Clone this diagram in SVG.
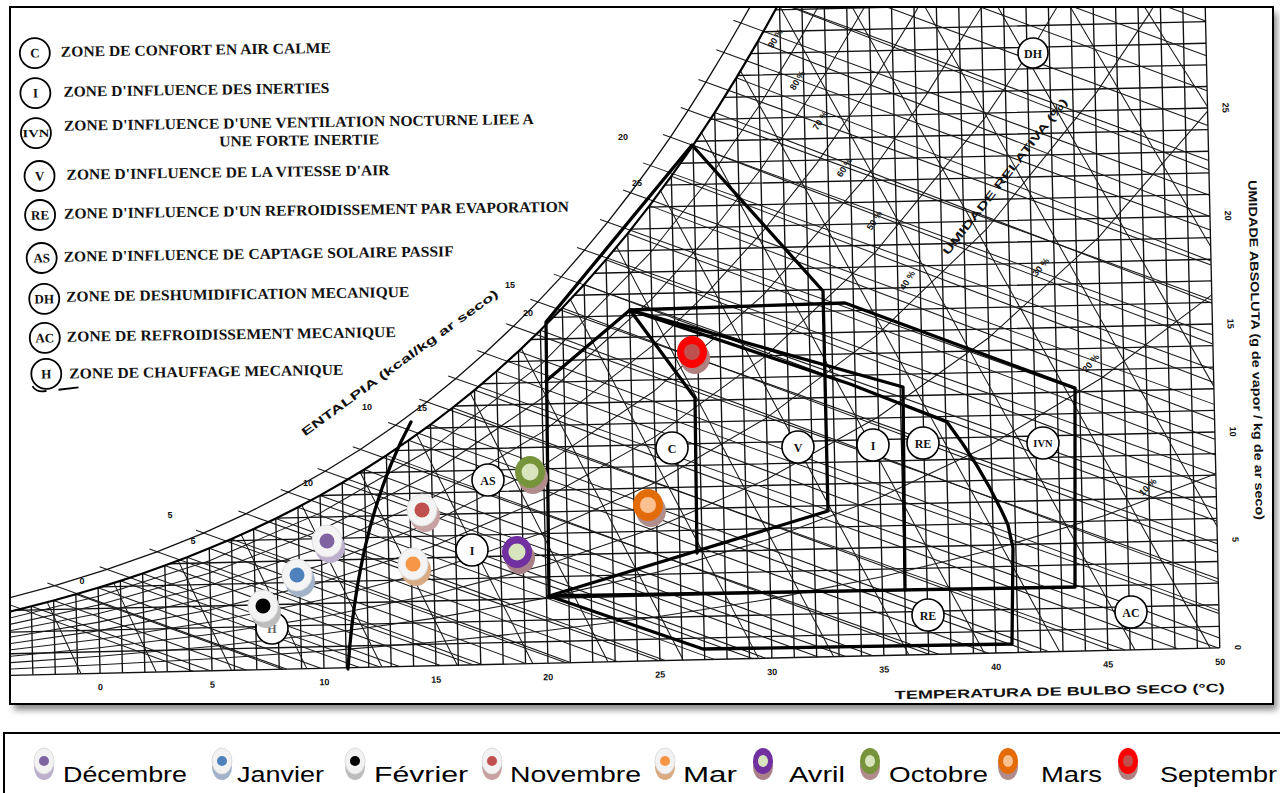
<svg xmlns="http://www.w3.org/2000/svg" width="1280" height="793" viewBox="0 0 1280 793">
<defs>
<style>
.g{fill:none;stroke:#111;stroke-width:1.35}
.t{fill:none;stroke:#1a1a1a;stroke-width:1.05}
.sat{fill:none;stroke:#000;stroke-width:2.2}
.zone{fill:none;stroke:#000;stroke-width:3.3;stroke-linejoin:round;stroke-linecap:round}
.zl circle{fill:#fff;stroke:#000;stroke-width:1.6}
.zl text{font-family:"Liberation Serif",serif;font-weight:bold;font-size:12px;text-anchor:middle;fill:#111}
.leg{font-family:"Liberation Serif",serif;font-weight:bold;font-size:15px;fill:#111}
.lc circle{fill:#fff;stroke:#000;stroke-width:1.8}
.lc text{font-family:"Liberation Serif",serif;font-weight:bold;font-size:13px;text-anchor:middle;fill:#111}
.num{font-family:"Liberation Sans",Arial,sans-serif;font-weight:bold;font-size:9px;fill:#111;text-anchor:middle}
.ax{font-family:"Liberation Sans",Arial,sans-serif;font-weight:bold;font-size:12px;fill:#111;text-anchor:middle}
.bl{font-family:"Liberation Sans",Arial,sans-serif;font-size:22px;fill:#000}
</style>
<clipPath id="chartClip"><rect x="11" y="8" width="1261" height="696"/></clipPath>
<filter id="blur" x="-5%" y="-5%" width="110%" height="110%"><feGaussianBlur stdDeviation="3"/></filter>
</defs>
<rect width="1280" height="793" fill="#fff"/>
<rect x="14" y="13" width="1263" height="697" fill="#8a8a8a" filter="url(#blur)"/>
<rect x="10" y="7" width="1263" height="697" fill="#fff" stroke="#000" stroke-width="2"/>

<g id="chart" clip-path="url(#chartClip)">
<g transform="rotate(-1.3 640 400)">
<path id="grid-v" class="g" d="M26.8 661V592.4M49.2 661V587.1M71.6 661V581.4M94 661V575.4M116.4 661V569M138.8 661V562.1M161.2 661V554.7M183.6 661V546.9M206 661V538.5M228.4 661V529.7M250.8 661V520.2M273.2 661V510.2M295.6 661V499.5M318 661V488.1M340.4 661V476M362.8 661V463.2M385.2 661V449.6M407.6 661V435.1M430 661V419.8M452.4 661V403.5M474.8 661V386.3M497.2 661V368M519.6 661V348.6M542 661V328.1M564.4 661V306.3M586.8 661V283.3M609.2 661V258.9M631.6 661V233.2M654 661V205.9M676.4 661V177M698.8 661V146.6M721.2 661V114.3M743.6 661V80.1M766 661V44.1M788.4 661V5.9M810.8 661V-40M833.2 661V-40M855.6 661V-40M878 661V-40M900.4 661V-40M922.8 661V-40M945.2 661V-40M967.6 661V-40M990 661V-40M1012.4 661V-40M1034.8 661V-40M1057.2 661V-40M1079.6 661V-40M1102 661V-40M1124.4 661V-40M1146.8 661V-40M1169.2 661V-40M1191.6 661V-40M1214 661V-40"/>
<path id="grid-h" class="g" d="M-30 661H1214M-30 639.4H1214M-30 617.8H1214M10 596.2H1214M96.7 574.6H1214M166.1 553H1214M224.1 531.4H1214M274 509.8H1214M317.8 488.2H1214M357 466.6H1214M392.3 445H1214M424.6 423.4H1214M454.6 401.8H1214M482.2 380.2H1214M508 358.6H1214M532.4 337H1214M555 315.4H1214M576.7 293.8H1214M597.1 272.2H1214M616.4 250.6H1214M635 229H1214M652.7 207.4H1214M669.7 185.8H1214M685.8 164.2H1214M701.5 142.6H1214M716.5 121H1214M731.1 99.4H1214M744.9 77.8H1214M758.4 56.2H1214M771.6 34.6H1214M784.1 13H1214"/>
<g id="rh-curves" class="t">
<path d="M4.4 654.7L94 652.5L206 648.9L318 643.9L430 637.3L542 628.4L654 616.8L766 601.8L878 582.3L990 557.5L1102 526.1L1214 486.7"/>
<path d="M4.4 648.3L94 644L206 636.7L318 626.8L430 613.4L542 595.7L654 572.4L766 542L878 502.7L990 452.5L1102 388.5L1214 307.8"/>
<path d="M4.4 642L94 635.4L206 624.5L318 609.6L430 589.5L542 562.8L654 527.6L766 481.7L878 422.2L990 345.7L1102 248.1L1214 124.1"/>
<path d="M4.4 635.6L94 626.9L206 612.3L318 592.4L430 565.5L542 529.8L654 482.6L766 420.8L878 340.7L990 237.4L1102 104.8L1158 25.3L1192 -30"/>
<path d="M4.4 629.3L94 618.3L206 600L318 575.1L430 541.5L542 496.6L654 437.2L766 359.5L878 258.2L990 127.2L1046 48.2L1102 -41"/>
<path d="M4.4 622.9L94 609.8L206 587.8L318 557.8L430 517.3L542 463.2L654 391.6L766 297.5L878 174.8L934 100.2L990 15.4L1012.4 -21.8"/>
<path d="M4.4 616.5L94 601.2L206 575.5L318 540.4L430 493.1L542 429.7L654 345.6L710 294L766 235L822 167.4L878 90.3L922.8 20.7L945.2 -16.8"/>
<path d="M4.4 610.1L94 592.6L206 563.2L318 523L430 468.7L542 396L654 299.4L710 240L766 172L833.2 77L878 4.8L900.4 -34.5"/>
<path d="M4.4 603.8L94 584L206 550.9L318 505.6L430 444.3L542 362.1L654 252.8L710 185.5L766 108.3L810.8 38.4L833.2 0.5L855.6 -39.7"/>
</g>
<path id="enthalpy" class="t" d="M-13.5 583.2L187.2 661M43.4 569.5L280.4 661M96 554.4L373.7 661M146.2 537.9L466.9 661M193.2 520.2L560.1 661M236 501.9L653.3 661M278.8 481.3L746.5 661M316.2 461.2L839.8 661M351.8 440.2L933 661M387.7 416.8L1026.2 661M419.5 394.2L1119.4 661M448.8 371.6L1212.6 661M478.4 346.9L1214 626.6M507.7 320.6L1214 591.8M532.6 296.7L1214 556.9M556.6 272.2L1214 522M580.5 246L1214 487.2M604.3 218.6L1214 452.3M627.8 189.7L1214 417.4M648.4 163L1214 382.6M669 135L1214 347.7M687.4 108.5L1214 312.9M705.7 80.8L1214 278M724.3 51.6L1214 243.1M742 22.5L1214 208.3M759 -6.1L1214 173.4M813 -20L1214 138.5M901 -20L1214 103.7M989 -20L1214 68.8M1077.5 -20L1214 33.9"/>
<path id="wet-bulb" class="t" d="M26.8 592.4L204.1 661M49.2 587.1L240 661M71.6 581.4L276.9 661M94 575.4L314.7 661M116.4 569L353.5 661M138.8 562.1L393.4 661M161.2 554.7L434.5 661M183.6 546.9L476.7 661M206 538.5L520.2 661M228.4 529.7L565.1 661M250.8 520.2L611.4 661M273.2 510.2L659.2 661M295.6 499.5L708.5 661M318 488.1L759.6 661M340.4 476L812.4 661M362.8 463.2L867 661M385.2 449.6L923.7 661M407.6 435.1L982.4 661M430 419.8L1043.2 661M452.4 403.5L1106.3 661M474.8 386.3L1171.9 661M497.2 368L1214 651M519.6 348.6L1214 623.7M542 328.1L1214 595.2M564.4 306.3L1214 565.4M586.8 283.3L1214 534.4M609.2 258.9L1214 501.9M631.6 233.2L1214 468M654 205.9L1214 432.6M676.4 177L1214 395.6M698.8 146.6L1214 356.9M721.2 114.3L1214 316.3M743.6 80.1L1214 273.9M766 44.1L1214 229.4M788.4 5.9L1214 182.8"/>
<path id="volume" class="t" d="M75 661L42.7 588.6M150.2 661L109.7 570.9M225.5 661L174.6 550M300.8 661L238.3 525.6M376 661L299.6 497.5M451.3 661L358.5 465.7M526.8 661L416.1 429.4M602 661L470.5 389.5M677.3 661L522.5 345.8M752.6 661L572.7 297.9M827.8 661L620.2 246.3M903.1 661L665.4 191.6M978.6 661L707.5 134M1053.8 661L748.1 73.5M1129.1 661L787.7 7.8M1204.4 661L850.2 -8.6M1214 539.2L922.1 -8.6M1214 399.4L993.8 -8.6M1214 259.5L1065 -8.6M1214 119.7L1137 -8.6"/>
<path id="saturation" class="sat" d="M-20 603L4.4 597.4L26.8 592.4L49.2 587.1L71.6 581.4L94 575.4L116.4 569L138.8 562.1L161.2 554.7L183.6 546.9L206 538.5L228.4 529.7L250.8 520.2L273.2 510.2L295.6 499.5L318 488.1L340.4 476L362.8 463.2L385.2 449.6L407.6 435.1L430 419.8L452.4 403.5L474.8 386.3L497.2 368L519.6 348.6L542 328.1L564.4 306.3L586.8 283.3L609.2 258.9L631.6 233.2L654 205.9L676.4 177L698.8 146.6L721.2 114.3L743.6 80.1L766 44.1L788.4 5.9L810.8 -34"/>
<path id="enthalpy-band" class="g" d="M-6.1 586.1L50.8 572.4L103.4 557.3L153.6 540.8L200.6 523.1L243.4 504.8L286.2 484.2L323.6 464.1L359.2 443.1L395.1 419.7L426.9 397.1L456.2 374.5L485.8 349.8L515.1 323.5L540 299.6L564 275.1L587.9 248.9L611.7 221.5L635.2 192.6L655.8 165.9L676.4 137.9L694.8 111.4L713.1 83.7L731.7 54.5L749.4 25.4L766.4 -3.2L780 -25"/>
<g id="x-ticks" class="num">
<text x="94" y="678">0</text><text x="206" y="678">5</text><text x="318" y="678">10</text><text x="430" y="678">15</text><text x="542" y="678">20</text><text x="654" y="678">25</text><text x="766" y="678">30</text><text x="878" y="678">35</text><text x="990" y="678">40</text><text x="1102" y="678">45</text><text x="1214" y="678">50</text>
</g>
<g id="y-ticks" class="num">
<text transform="translate(1232 661) rotate(90)" y="3">0</text>
<text transform="translate(1232 553) rotate(90)" y="3">5</text>
<text transform="translate(1232 445) rotate(90)" y="3">10</text>
<text transform="translate(1232 337) rotate(90)" y="3">15</text>
<text transform="translate(1232 229) rotate(90)" y="3">20</text>
<text transform="translate(1232 121) rotate(90)" y="3">25</text>
</g>
<text class="ax" x="1053" y="705" textLength="330" lengthAdjust="spacingAndGlyphs">TEMPERATURA DE BULBO SECO (°C)</text>
<text class="ax" transform="translate(1253 364) rotate(90)" textLength="340" lengthAdjust="spacingAndGlyphs">UMIDADE ABSOLUTA (g de vapor / kg de ar seco)</text>
</g>

<g id="zones">
<path id="zone-V" class="zone" d="M546 322L692 145L823 291L828 511L549 596Z"/>
<path id="zone-C" class="zone" d="M546 381L630 310L695 398L697 553"/>
<path id="zone-IVN" class="zone" d="M630 310L845 303L1075 388L1075 587L549 596"/>
<path id="zone-I" class="zone" d="M630 310L903 387L905 590"/>
<path id="zone-RE" class="zone" d="M630 310L850 384L947 422Q985 472 1008 525L1013 548L1012 644L703 649L549 596"/>
<path id="zone-H" class="zone" d="M411 422C385 470 356 545 348 669"/>
</g>
</g>

<g id="chart-texts" class="num">
<text x="82" y="584">0</text><text x="193" y="544">5</text><text x="308" y="486">10</text><text x="422" y="411">15</text><text x="528" y="316">20</text><text x="637" y="186">25</text>
<text x="170" y="518">5</text><text x="367" y="410">10</text><text x="510" y="288">15</text><text x="623" y="140">20</text>
<text transform="translate(778 40) rotate(-58)">90 %</text>
<text transform="translate(800 82) rotate(-58)">80 %</text>
<text transform="translate(823 122) rotate(-58)">70 %</text>
<text transform="translate(847 169) rotate(-58)">60 %</text>
<text transform="translate(877 222) rotate(-58)">50 %</text>
<text transform="translate(910 282) rotate(-58)">40 %</text>
<text transform="translate(1043 269) rotate(-50)">30 %</text>
<text transform="translate(1093 365) rotate(-50)">20 %</text>
<text transform="translate(1150 489) rotate(-45)">10 %</text>
</g>
<text class="ax" style="font-size:11px" transform="translate(1008 179) rotate(-52)" textLength="195" lengthAdjust="spacingAndGlyphs">UMIDADE RELATIVA (%)</text>
<text class="ax" style="font-size:11.5px" transform="translate(402 366) rotate(-36)" textLength="240" lengthAdjust="spacingAndGlyphs">ENTALPIA  (kcal/kg ar seco)</text>

<g id="zone-labels" class="zl">
<g id="lbl-DH"><circle cx="1033" cy="53" r="15"/><text x="1033" y="57.5">DH</text></g>
<g id="lbl-C"><circle cx="672" cy="448" r="16"/><text x="672" y="452.5">C</text></g>
<g id="lbl-V"><circle cx="798" cy="447" r="16"/><text x="798" y="451.5">V</text></g>
<g id="lbl-I1"><circle cx="873" cy="445" r="16"/><text x="873" y="449.5">I</text></g>
<g id="lbl-RE1"><circle cx="923" cy="443" r="16"/><text x="923" y="447.5">RE</text></g>
<g id="lbl-IVN"><circle cx="1043" cy="443" r="16"/><text x="1043" y="447" style="font-size:10.5px">IVN</text></g>
<g id="lbl-RE2"><circle cx="928" cy="615" r="16"/><text x="928" y="619.5">RE</text></g>
<g id="lbl-AC"><circle cx="1131" cy="612" r="16"/><text x="1131" y="616.5">AC</text></g>
<g id="lbl-AS"><circle cx="488" cy="480" r="16"/><text x="488" y="484.5">AS</text></g>
<g id="lbl-I2"><circle cx="472" cy="550" r="16"/><text x="472" y="554.5">I</text></g>
<g id="lbl-H"><circle cx="272" cy="628" r="16"/><text x="272" y="633" style="fill:#666">H</text></g>
</g>

<g id="markers">
<g id="mk-fevrier"><ellipse cx="266" cy="612" rx="15" ry="16" fill="#bdbdbd"/><ellipse cx="263" cy="606" rx="15" ry="16" fill="#f4f4f4" stroke="#ddd"/><circle cx="263" cy="606" r="7.5" fill="#000"/></g>
<g id="mk-janvier"><ellipse cx="300" cy="581" rx="15" ry="16" fill="#a2b3c9"/><ellipse cx="297" cy="575" rx="15" ry="16" fill="#f4f4f4" stroke="#ddd"/><circle cx="297" cy="575" r="7.5" fill="#4f81bd"/></g>
<g id="mk-decembre"><ellipse cx="330" cy="547" rx="15" ry="16" fill="#bcb0cc"/><ellipse cx="327" cy="541" rx="15" ry="16" fill="#f4f4f4" stroke="#ddd"/><circle cx="327" cy="541" r="7.5" fill="#8064a2"/></g>
<g id="mk-mar"><ellipse cx="416" cy="570" rx="15" ry="16" fill="#d9ab82"/><ellipse cx="413" cy="564" rx="15" ry="16" fill="#f4f4f4" stroke="#ddd"/><circle cx="413" cy="564" r="7.5" fill="#f79646"/></g>
<g id="mk-novembre"><ellipse cx="425" cy="516" rx="15" ry="16" fill="#c8a2a2"/><ellipse cx="422" cy="510" rx="15" ry="16" fill="#f4f4f4" stroke="#ddd"/><circle cx="422" cy="510" r="7.5" fill="#c0504d"/></g>
<g id="mk-avril"><ellipse cx="520" cy="558" rx="15" ry="16" fill="#a98088"/><ellipse cx="517" cy="552" rx="15" ry="16" fill="#7030a0"/><circle cx="517" cy="552" r="8.5" fill="#d7e4bd"/></g>
<g id="mk-octobre"><ellipse cx="533" cy="478" rx="15" ry="16" fill="#b08c8c"/><ellipse cx="530" cy="472" rx="15" ry="16" fill="#77933c"/><circle cx="530" cy="472" r="8.5" fill="#d7e4bd"/></g>
<g id="mk-mars"><ellipse cx="651" cy="511" rx="15" ry="16" fill="#b08c8c"/><ellipse cx="648" cy="505" rx="15" ry="16" fill="#e36c09"/><circle cx="648" cy="505" r="8" fill="#fac08f"/></g>
<g id="mk-septembre"><ellipse cx="695" cy="358" rx="15" ry="16" fill="#b08080"/><ellipse cx="692" cy="352" rx="15" ry="16" fill="#ff0000"/><circle cx="692" cy="352" r="8" fill="#c0504d"/></g>
</g>

<g id="zone-legend" transform="rotate(-0.8 40 210)">
<g class="lc">
<g id="leg-C"><circle cx="37" cy="53" r="15"/><text x="37" y="57.5">C</text></g>
<g id="leg-I"><circle cx="37" cy="93" r="15"/><text x="37" y="97.5">I</text></g>
<g id="leg-IVN"><circle cx="37" cy="133" r="15"/><text x="37" y="137" style="font-size:11px" textLength="27" lengthAdjust="spacingAndGlyphs">IVN</text></g>
<g id="leg-V"><circle cx="40" cy="176" r="15"/><text x="40" y="180.5">V</text></g>
<g id="leg-RE"><circle cx="40" cy="215" r="15"/><text x="40" y="219.5">RE</text></g>
<g id="leg-AS"><circle cx="41" cy="258" r="15"/><text x="41" y="262.5">AS</text></g>
<g id="leg-DH"><circle cx="43" cy="299" r="15"/><text x="43" y="303.5">DH</text></g>
<g id="leg-AC"><circle cx="43" cy="338" r="15"/><text x="43" y="342.5">AC</text></g>
<g id="leg-H"><circle cx="44" cy="374" r="15"/><text x="44" y="378.5">H</text></g>
</g>
<path d="M30 386Q34 393 44 391M56 390L76 388" fill="none" stroke="#000" stroke-width="1.8"/>
<text class="leg" x="63" y="57" textLength="270" lengthAdjust="spacingAndGlyphs">ZONE DE CONFORT EN AIR CALME</text>
<text class="leg" x="65" y="97" textLength="266" lengthAdjust="spacingAndGlyphs">ZONE D'INFLUENCE DES INERTIES</text>
<text class="leg" x="65" y="131" textLength="470" lengthAdjust="spacingAndGlyphs">ZONE D'INFLUENCE D'UNE VENTILATION NOCTURNE LIEE A</text>
<text class="leg" x="220" y="149" textLength="160" lengthAdjust="spacingAndGlyphs">UNE FORTE INERTIE</text>
<text class="leg" x="67" y="180" textLength="323" lengthAdjust="spacingAndGlyphs">ZONE D'INFLUENCE DE LA VITESSE D'AIR</text>
<text class="leg" x="64" y="219" textLength="505" lengthAdjust="spacingAndGlyphs">ZONE D'INFLUENCE D'UN REFROIDISSEMENT PAR EVAPORATION</text>
<text class="leg" x="63" y="262" textLength="390" lengthAdjust="spacingAndGlyphs">ZONE D'INFLUENCE DE CAPTAGE SOLAIRE PASSIF</text>
<text class="leg" x="65" y="302" textLength="343" lengthAdjust="spacingAndGlyphs">ZONE DE DESHUMIDIFICATION MECANIQUE</text>
<text class="leg" x="65" y="342" textLength="329" lengthAdjust="spacingAndGlyphs">ZONE DE REFROIDISSEMENT MECANIQUE</text>
<text class="leg" x="67" y="379" textLength="274" lengthAdjust="spacingAndGlyphs">ZONE DE CHAUFFAGE MECANIQUE</text>
</g>

<g id="month-legend">
<rect x="4" y="733" width="1290" height="70" fill="#fff" stroke="#000" stroke-width="2"/>
<g id="li-decembre"><ellipse cx="44" cy="767" rx="10" ry="13" fill="#bcb0cc"/><ellipse cx="44" cy="761" rx="10" ry="13" fill="#f2f2f2" stroke="#ddd"/><circle cx="44" cy="761" r="5" fill="#8064a2"/><text class="bl" x="63" y="782" textLength="124" lengthAdjust="spacingAndGlyphs">Décembre</text></g>
<g id="li-janvier"><ellipse cx="222" cy="767" rx="10" ry="13" fill="#a2b3c9"/><ellipse cx="222" cy="761" rx="10" ry="13" fill="#f2f2f2" stroke="#ddd"/><circle cx="222" cy="761" r="5" fill="#4f81bd"/><text class="bl" x="237" y="782" textLength="87" lengthAdjust="spacingAndGlyphs">Janvier</text></g>
<g id="li-fevrier"><ellipse cx="355" cy="767" rx="10" ry="13" fill="#bdbdbd"/><ellipse cx="355" cy="761" rx="10" ry="13" fill="#f2f2f2" stroke="#ddd"/><circle cx="355" cy="761" r="5" fill="#000"/><text class="bl" x="374" y="782" textLength="94" lengthAdjust="spacingAndGlyphs">Février</text></g>
<g id="li-novembre"><ellipse cx="492" cy="767" rx="10" ry="13" fill="#c8a2a2"/><ellipse cx="492" cy="761" rx="10" ry="13" fill="#f2f2f2" stroke="#ddd"/><circle cx="492" cy="761" r="5" fill="#c0504d"/><text class="bl" x="510" y="782" textLength="131" lengthAdjust="spacingAndGlyphs">Novembre</text></g>
<g id="li-mar"><ellipse cx="665" cy="767" rx="10" ry="13" fill="#d9ab82"/><ellipse cx="665" cy="761" rx="10" ry="13" fill="#f2f2f2" stroke="#ddd"/><circle cx="665" cy="761" r="5" fill="#f79646"/><text class="bl" x="683" y="782" textLength="54" lengthAdjust="spacingAndGlyphs">Mar</text></g>
<g id="li-avril"><ellipse cx="763" cy="767" rx="10" ry="13" fill="#a98088"/><ellipse cx="763" cy="761" rx="10" ry="13" fill="#7030a0"/><ellipse cx="763" cy="761" rx="5" ry="6" fill="#d7e4bd"/><text class="bl" x="789" y="782" textLength="56" lengthAdjust="spacingAndGlyphs">Avril</text></g>
<g id="li-octobre"><ellipse cx="870" cy="767" rx="10" ry="13" fill="#b08c8c"/><ellipse cx="870" cy="761" rx="10" ry="13" fill="#77933c"/><ellipse cx="870" cy="761" rx="5" ry="6" fill="#d7e4bd"/><text class="bl" x="889" y="782" textLength="99" lengthAdjust="spacingAndGlyphs">Octobre</text></g>
<g id="li-mars"><ellipse cx="1008" cy="767" rx="10" ry="13" fill="#b08c8c"/><ellipse cx="1008" cy="761" rx="10" ry="13" fill="#e36c09"/><ellipse cx="1008" cy="761" rx="5" ry="6" fill="#fac08f"/><text class="bl" x="1041" y="782" textLength="61" lengthAdjust="spacingAndGlyphs">Mars</text></g>
<g id="li-septembre"><ellipse cx="1128" cy="767" rx="10" ry="13" fill="#b08080"/><ellipse cx="1128" cy="761" rx="10" ry="13" fill="#ff0000"/><ellipse cx="1128" cy="761" rx="5" ry="6" fill="#c0504d"/><text class="bl" x="1160" y="782" textLength="117" lengthAdjust="spacingAndGlyphs">Septembr</text></g>
</g>
</svg>
